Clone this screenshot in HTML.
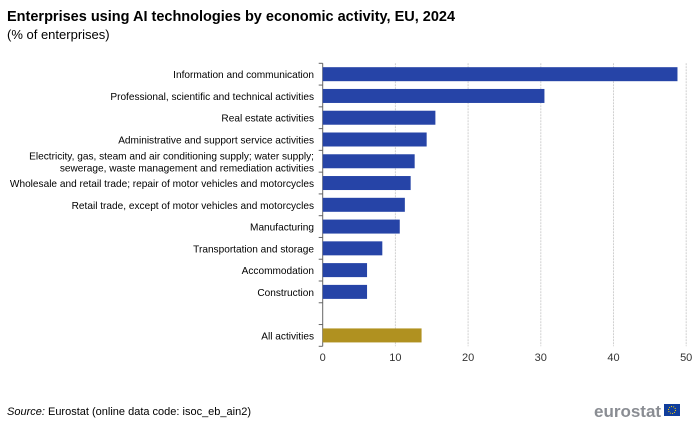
<!DOCTYPE html>
<html><head><meta charset="utf-8"><style>
body{margin:0;background:#fff;font-family:"Liberation Sans",Arial,sans-serif;}
svg text{font-family:"Liberation Sans",Arial,sans-serif;}
</style></head><body>
<svg id="c" width="700" height="432">
<text x="7" y="21" font-size="14.5" font-weight="bold" fill="#000">Enterprises using AI technologies by economic activity, EU, 2024</text>
<text x="7" y="39" font-size="13" fill="#000">(% of enterprises)</text>
<g id="grid"></g><g id="bars"></g><g id="labels"></g><g id="xt"></g>
<text x="7" y="415" font-size="11" fill="#000"><tspan font-style="italic">Source:</tspan> Eurostat (online data code: isoc_eb_ain2)</text>
<text x="594" y="417" font-size="17" font-weight="bold" fill="#8a8d93">eurostat</text>
<rect x="664" y="404" width="16" height="12" fill="#103e9c"/>
<circle cx="672" cy="410" r="3.5" fill="none" stroke="#ffd400" stroke-dasharray="1 1.2" stroke-width="1"/>
</svg>
<script>
const categories=["Information and communication","Professional, scientific and technical activities","Real estate activities","Administrative and support service activities","Electricity, gas, steam and air conditioning supply; water supply;|sewerage, waste management and remediation activities","Wholesale and retail trade; repair of motor vehicles and motorcycles","Retail trade, except of motor vehicles and motorcycles","Manufacturing","Transportation and storage","Accommodation","Construction","","All activities"];
const values=[48.8,30.5,15.5,14.3,12.65,12.1,11.3,10.6,8.2,6.1,6.1,null,13.6];
const ticks=[0,10,20,30,40,50];
const NS="http://www.w3.org/2000/svg";
const x0=322.7,pxPer=7.27,plotTop=63.3,slot=21.77;
const X=v=>x0+v*pxPer, Y=i=>plotTop+i*slot;
function mk(t,a,p){const e=document.createElementNS(NS,t);for(const k in a)e.setAttribute(k,a[k]);document.getElementById(p).appendChild(e);return e;}
ticks.forEach(t=>{
 if(t>0){const l=mk('line',{x1:X(t),x2:X(t),y1:plotTop,y2:Y(categories.length),stroke:'#d0d0d0','stroke-dasharray':'2 1'},'grid');
 
 }
 const tx=mk('text',{x:X(t),y:361,'font-size':11,'text-anchor':'middle',fill:'#333'},'xt');tx.textContent=t;
 
 
});
const ax=mk('line',{x1:x0,x2:x0,y1:plotTop,y2:Y(categories.length),stroke:'#666'},'grid');


for(let i=0;i<=categories.length;i++){const tk=mk('line',{x1:x0-4,x2:x0,y1:Y(i),y2:Y(i),stroke:'#666'},'grid');

}
categories.forEach((c,i)=>{
 const cy=Y(i)+slot/2;
 if(values[i]!=null){
  const r=mk('rect',{x:x0,y:cy-7,width:X(values[i])-x0,height:14,fill:i==12?'#b09120':'#2644a7'},'bars');
  
  
 }
 if(c){const parts=c.split('|');
  const t=mk('text',{x:314,y:cy+4-(parts.length-1)*6,'font-size':10.1,'text-anchor':'end',fill:'#000'},'labels');
  parts.forEach((p,j)=>{const s=document.createElementNS(NS,'tspan');s.setAttribute('x',314);if(j)s.setAttribute('dy',12);s.textContent=p;t.appendChild(s);});
  
  }
});
</script>
</body></html>
